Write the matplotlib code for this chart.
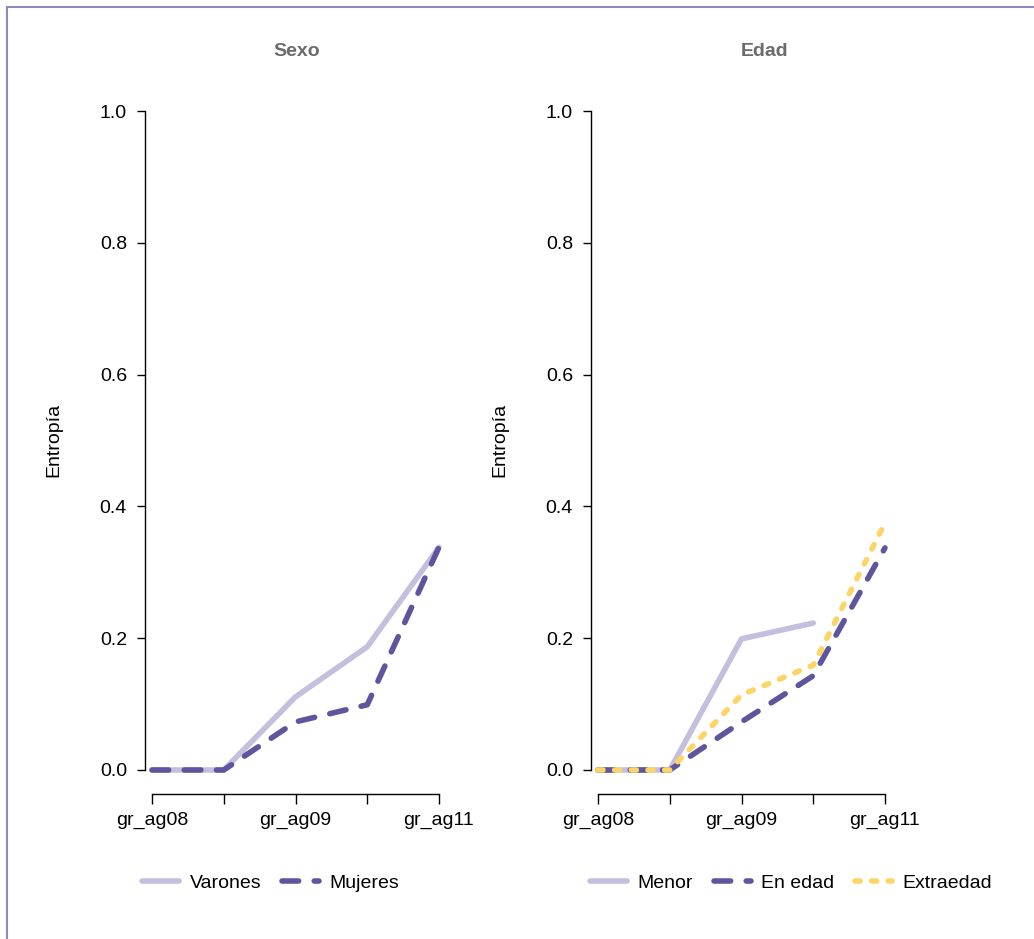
import matplotlib
matplotlib.use('Agg')
import matplotlib.pyplot as plt
from matplotlib.lines import Line2D
import numpy as np

plt.rcParams['font.family'] = ['Liberation Sans', 'DejaVu Sans']

# grades (only every other label is printed, as in base R axes)
x_pos = [1, 2, 3, 4, 5]
x_labels = ['gr_ag08', '', 'gr_ag09', '', 'gr_ag11']
y_ticks = [0.0, 0.2, 0.4, 0.6, 0.8, 1.0]

# entropy by sex
varones = [0.0, 0.0, 0.111, 0.187, 0.338]
mujeres = [0.0, 0.0, 0.073, 0.099, 0.338]

# entropy by age group (no value for "Menor" in the last grade)
menor = [0.0, 0.0, 0.199, 0.223, np.nan]
en_edad = [0.0, 0.0, 0.073, 0.143, 0.337]
extraedad = [0.0, 0.0, 0.114, 0.159, 0.375]

LIGHT = '#c3bfdc'
DARK = '#5f559d'
YELLOW = '#fdd466'
LW = 4.0
FS = 14

W, H = 1034, 939
fig = plt.figure(figsize=(W / 100, H / 100), dpi=100)


def make_axes(left_px):
    ax = fig.add_axes([left_px / W, (H - 794) / H, 301 / W, 690 / H])
    ax.set_xlim(1 - 7 / 71.5, 5 + 7 / 71.5)
    ax.set_ylim(-24 / 659, 1 + 7 / 659)
    for s in ['top', 'right']:
        ax.spines[s].set_visible(False)
    ax.spines['left'].set_bounds(0, 1)
    ax.spines['bottom'].set_bounds(1, 5)
    ax.spines['left'].set_linewidth(1.0)
    ax.spines['bottom'].set_linewidth(1.0)
    ax.set_xticks(x_pos)
    ax.set_xticklabels(x_labels, fontsize=FS)
    ax.set_yticks(y_ticks)
    ax.set_yticklabels(['%.1f' % v for v in y_ticks], fontsize=FS)
    ax.tick_params(axis='x', length=7, width=1.0, pad=6)
    ax.tick_params(axis='y', length=6, width=1.0, pad=7)
    ax.set_ylabel('Entropía', fontsize=FS)
    ax.yaxis.set_label_coords(-0.275, 0.513)
    return ax


def series(ax, y, color, style):
    kw = dict(color=color, lw=LW, solid_joinstyle='round',
              solid_capstyle='round', dash_capstyle='round')
    line, = ax.plot(x_pos, y, **kw)
    if style == 'dash':
        line.set_dashes((3.0, 2.8))
    elif style == 'dot':
        line.set_dashes((0.9, 2.1))
    return line


# left panel: sex
ax1 = make_axes(145)
l1 = series(ax1, varones, LIGHT, 'solid')
l2 = series(ax1, mujeres, DARK, 'dash')
fig.text(297 / W, 1 - 52 / H, 'Sexo', ha='center', va='center',
         fontsize=FS, fontweight='bold', color='#6b6b6b')
leg1 = fig.legend([l1, l2], ['Varones', 'Mujeres'], loc='center left',
                  bbox_to_anchor=(142 / W, 1 - 883 / H), ncol=2, frameon=False,
                  fontsize=FS, handlelength=1.9, handletextpad=0.55,
                  columnspacing=1.05, borderpad=0, borderaxespad=0)

# right panel: age
ax2 = make_axes(591)
l3 = series(ax2, menor, LIGHT, 'solid')
l4 = series(ax2, en_edad, DARK, 'dash')
l5 = series(ax2, extraedad, YELLOW, 'dot')
fig.text(765 / W, 1 - 52 / H, 'Edad', ha='center', va='center',
         fontsize=FS, fontweight='bold', color='#6b6b6b')
leg2 = fig.legend([l3, l4, l5], ['Menor', 'En edad', 'Extraedad'], loc='center left',
                  bbox_to_anchor=(590 / W, 1 - 883 / H), ncol=3, frameon=False,
                  fontsize=FS, handlelength=1.9, handletextpad=0.55,
                  columnspacing=1.05, borderpad=0, borderaxespad=0)

# outer frame on top and left edges
frame_col = '#8d88be'
fig.add_artist(Line2D([7 / W, 1], [1 - 7 / H, 1 - 7 / H], color=frame_col, lw=1.5,
                      transform=fig.transFigure))
fig.add_artist(Line2D([7 / W, 7 / W], [0, 1 - 7 / H], color=frame_col, lw=1.5,
                      transform=fig.transFigure))

fig.savefig('out.png', dpi=100)
